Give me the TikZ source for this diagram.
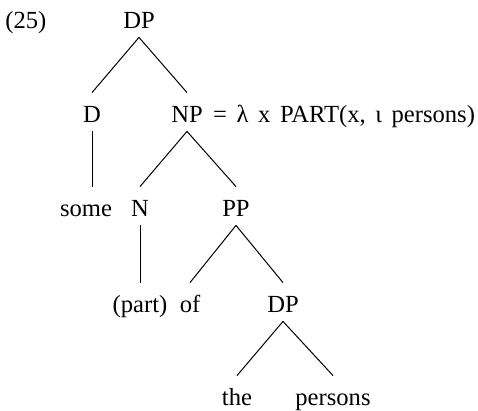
\documentclass[tikz,border=0pt]{standalone}
\usepackage{fontspec}
\setmainfont{Liberation Serif}
\newcommand{\gapsp}{\hspace{4.8pt}}
\begin{document}
\begin{tikzpicture}[x=0.5pt,y=-0.5pt,
  lbl/.style={anchor=base,inner sep=0pt,text height=15pt,text depth=4pt,font=\fontsize{12.3}{14}\selectfont},
  edge/.style={line width=0.5pt}]
\useasboundingbox (0,0) rectangle (478,411);
\node[lbl,anchor=base west] (ex) at (5,29) {(25)};
\node[lbl] (DPa) at (139,29) {DP};
\node[lbl] (D) at (92,123) {D};
\node[lbl] (NP) at (187,123) {NP};
\node[lbl,anchor=base west] (NPsem) at ([xshift=4.8pt]NP.base east) {=\gapsp λ\gapsp x\gapsp PART(x,\gapsp ι\gapsp persons)};
\node[lbl] (some) at (86,217) {some};
\node[lbl] (N) at (140,217) {N};
\node[lbl] (PP) at (236,217) {PP};
\node[lbl] (part) at (140,313) {(part)};
\node[lbl] (of) at (190,313) {of};
\node[lbl] (DPb) at (283,313) {DP};
\node[lbl] (the) at (237,406) {the};
\node[lbl] (persons) at (333,406) {persons};
\draw[edge] (DPa.south) -- (D.north);
\draw[edge] (DPa.south) -- (NP.north);
\draw[edge] (D.south) -- (D.south |- some.north);
\draw[edge] (NP.south) -- (N.north);
\draw[edge] (NP.south) -- (PP.north);
\draw[edge] (N.south) -- (N.south |- part.north);
\draw[edge] (PP.south) -- (of.north);
\draw[edge] (PP.south) -- (DPb.north);
\draw[edge] (DPb.south) -- (the.north);
\draw[edge] (DPb.south) -- (persons.north);
\end{tikzpicture}
\end{document}
